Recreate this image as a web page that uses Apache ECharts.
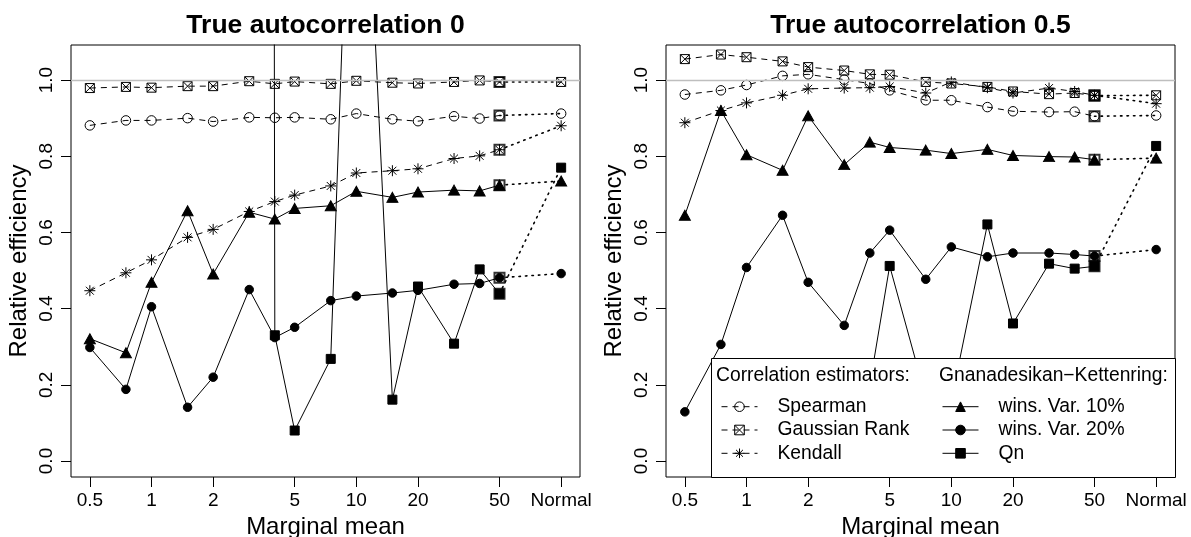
<!DOCTYPE html>
<html><head><meta charset="utf-8">
<script src="https://cdn.jsdelivr.net/npm/echarts@6/dist/echarts.min.js"></script>
<style>html,body{margin:0;padding:0;background:#fff}#c{width:1191px;height:537px}</style>
</head><body><div id="c"></div>
<script>
// ---------- data ----------
const means = [0.5, 0.75, 1, 1.5, 2, 3, 4, 5, 7.5, 10, 15, 20, 30, 40, 50];
const normalPos = 100;            // axis position used for the "Normal" column
const xTicks = [0.5, 1, 2, 5, 10, 20, 50];
const xTickLabels = ['0.5', '1', '2', '5', '10', '20', '50'];
const normalLabel = 'Normal';
const yTicks = [0, 0.2, 0.4, 0.6, 0.8, 1.0];
const yLimits = [0, 1.05];
const refLine = 1;
const titles = ['True autocorrelation 0', 'True autocorrelation 0.5'];
const seriesNames = ['Spearman', 'Gaussian Rank', 'Kendall', 'wins. Var. 10%', 'wins. Var. 20%', 'Qn'];

// true autocorrelation 0
const spearman0  = [0.881,0.894,0.894,0.900,0.891,0.902,0.901,0.902,0.897,0.912,0.897,0.892,0.905,0.899,0.907];
const gaussRank0 = [0.979,0.982,0.980,0.984,0.984,0.997,0.990,0.996,0.990,0.998,0.993,0.991,0.995,0.999,0.995];
const kendall0   = [0.447,0.494,0.528,0.587,0.608,0.655,0.681,0.698,0.722,0.756,0.762,0.767,0.794,0.801,0.817];
const gk10_0     = [0.321,0.284,0.469,0.657,0.491,0.653,0.635,0.663,0.670,0.708,0.692,0.706,0.711,0.709,0.724];
const gk20_0     = [0.298,0.188,0.405,0.141,0.220,0.450,0.324,0.351,0.421,0.433,0.441,0.448,0.464,0.466,0.481];
const qn0        = [null,null,null,null,null,40,0.330,0.080,0.268,2.15,0.161,0.458,0.308,0.503,0.439];
const normal0    = [0.912, 0.995, 0.880, 0.735, 0.492, 0.770];

// true autocorrelation 0.5
const spearman5  = [0.962,0.973,0.987,1.011,1.015,1.001,0.991,0.973,0.947,0.947,0.929,0.918,0.916,0.917,0.905];
const gaussRank5 = [1.055,1.067,1.060,1.049,1.034,1.025,1.015,1.014,0.995,0.991,0.982,0.970,0.963,0.966,0.959];
const kendall5   = [0.888,0.920,0.940,0.960,0.977,0.979,0.980,0.983,0.966,0.995,0.980,0.966,0.979,0.970,0.960];
const gk10_5     = [0.645,0.920,0.804,0.763,0.906,0.778,0.837,0.823,0.816,0.807,0.818,0.802,0.799,0.798,0.791];
const gk20_5     = [0.129,0.306,0.508,0.645,0.469,0.356,0.546,0.606,0.477,0.562,0.536,0.546,0.546,0.542,0.538];
const qn5        = [null,0.15,0.20,0.10,0.15,0.12,0.20,0.512,0.168,0.159,0.621,0.361,0.518,0.505,0.511];
const normal5    = [0.907, 0.960, 0.938, 0.795, 0.555, 0.827];

// ---------- styling ----------
const FONT = 'Liberation Sans, Arial, Helvetica, sans-serif';
const FS = 19;        // tick labels
const FS_NAME = 24;   // axis titles
const FS_TITLE = 26.5;
const FS_LEG = 19.3;  // legend
const BOXX = 'path://M0,0H10V10H0Z M0,0L10,10 M10,0L0,10';
const ASTER = 'path://M-1,0L1,0 M0,-1L0,1 M-0.72,-0.72L0.72,0.72 M-0.72,0.72L0.72,-0.72';
const DASH = [6, 5];
const DOT = [1.5, 5];
const sty = [
  {symbol: 'circle', size: 9.5, fill: 'transparent', dash: DASH},
  {symbol: BOXX, size: 9, fill: 'transparent', dash: DASH},
  {symbol: ASTER, size: 11, fill: 'transparent', dash: DASH},
  {symbol: 'triangle', size: [11, 10], fill: '#000', dash: 'solid'},
  {symbol: 'circle', size: 8.5, fill: '#000', dash: 'solid'},
  {symbol: 'rect', size: 9, fill: '#000', dash: 'solid'}
];

const grids = [
  {left: 71, top: 45, width: 509, height: 432},
  {left: 666, top: 45, width: 509, height: 432}
];

const LOG = Math.log10;
const xLo = LOG(means[0]), xHi = LOG(normalPos);
const xMin = xLo - 0.04 * (xHi - xLo), xMax = xHi + 0.04 * (xHi - xLo);
const yMin = yLimits[0] - 0.04 * (yLimits[1] - yLimits[0]);
const yMax = yLimits[1] + 0.04 * (yLimits[1] - yLimits[0]);
const xTickPos = xTicks.map(LOG).concat([LOG(normalPos)]);
const xTickText = xTickLabels.concat([normalLabel]);

const panels = [
  {vals: [spearman0, gaussRank0, kendall0, gk10_0, gk20_0, qn0], normal: normal0},
  {vals: [spearman5, gaussRank5, kendall5, gk10_5, gk20_5, qn5], normal: normal5}
];

const xAxes = [], yAxes = [], series = [], titleOpts = [];
panels.forEach((p, gi) => {
  xAxes.push({
    type: 'value', gridIndex: gi, min: xMin, max: xMax, position: 'bottom',
    name: 'Marginal mean', nameLocation: 'middle', nameGap: 32,
    nameTextStyle: {fontSize: FS_NAME, color: '#000', fontFamily: FONT},
    axisLine: {show: false, onZero: false}, splitLine: {show: false},
    axisTick: {show: true, inside: false, length: 10, customValues: xTickPos, lineStyle: {color: '#000', width: 1}},
    axisLabel: {
      customValues: xTickPos, margin: 14, fontSize: FS, color: '#000', fontFamily: FONT,
      formatter: v => { const i = xTickPos.findIndex(t => Math.abs(t - v) < 1e-6); return i >= 0 ? xTickText[i] : ''; }
    }
  });
  yAxes.push({
    type: 'value', gridIndex: gi, min: yMin, max: yMax, position: 'left',
    name: 'Relative efficiency', nameLocation: 'middle', nameGap: 40,
    nameTextStyle: {fontSize: FS_NAME, color: '#000', fontFamily: FONT},
    axisLine: {show: false, onZero: false}, splitLine: {show: false},
    axisTick: {show: true, inside: false, length: 10, customValues: yTicks, lineStyle: {color: '#000', width: 1}},
    axisLabel: {customValues: yTicks, rotate: 90, margin: 15, fontSize: FS, color: '#000', fontFamily: FONT,
      formatter: v => v.toFixed(1)}
  });
  titleOpts.push({
    text: titles[gi], left: grids[gi].left + grids[gi].width / 2, textAlign: 'center', top: 12, padding: 0,
    textStyle: {fontSize: FS_TITLE, fontWeight: 'bold', color: '#000', fontFamily: FONT}
  });
  // reference line at 1
  series.push({
    type: 'line', xAxisIndex: gi, yAxisIndex: gi, data: [], z: 1, silent: true,
    markLine: {silent: true, symbol: ['none', 'none'], label: {show: false}, animation: false,
      lineStyle: {color: '#bebebe', width: 1.3, type: 'solid'}, data: [{yAxis: refLine}]}
  });
  p.vals.forEach((v, k) => {
    const s = sty[k];
    const common = {
      xAxisIndex: gi, yAxisIndex: gi, symbol: s.symbol, symbolSize: s.size, silent: true,
      itemStyle: {color: s.fill, borderColor: '#000', borderWidth: 1},
      emphasis: {disabled: true}, clip: true
    };
    series.push(Object.assign({
      type: 'line', name: seriesNames[k], z: 3,
      data: means.map((m, i) => [LOG(m), v[i]]),
      lineStyle: {color: '#000', width: 1, type: s.dash}
    }, common));
    series.push(Object.assign({
      type: 'line', name: seriesNames[k] + ' (normal)', z: 3,
      data: [{value: [LOG(means[means.length - 1]), v[v.length - 1]], symbol: 'none'},
             {value: [LOG(normalPos), p.normal[k]]}],
      lineStyle: {color: '#000', width: 1.6, type: DOT, cap: 'round'}
    }, common));
  });
  series.push({
    type: 'scatter', xAxisIndex: gi, yAxisIndex: gi, z: 4, silent: true, symbol: 'rect', symbolSize: 10,
    itemStyle: {color: 'transparent', borderColor: '#000', borderWidth: 2},
    data: p.vals.map(v => [LOG(means[means.length - 1]), v[v.length - 1]])
  });
});

const lg = grids[1];
const legendBox = {x: 711, y: 358};
const legendCommon = {
  orient: 'vertical', itemWidth: 36, itemHeight: 12, itemGap: 3.3, padding: 0, z: 20,
  selectedMode: false,
  itemStyle: {borderWidth: 1},
  lineStyle: {width: 1},
  textStyle: {fontSize: FS_LEG, lineHeight: 20, color: '#000', fontFamily: FONT, padding: [0, 0, 0, 15]}
};

const option = {
  animation: false,
  backgroundColor: '#fff',
  title: titleOpts,
  grid: grids.map(g => Object.assign({show: true, borderColor: '#000', borderWidth: 1, backgroundColor: 'transparent', containLabel: false, outerBoundsMode: 'none'}, g)),
  xAxis: xAxes,
  yAxis: yAxes,
  legend: [
    Object.assign({}, legendCommon, {data: seriesNames.slice(0, 3), left: 721, top: 396.7}),
    Object.assign({}, legendCommon, {data: seriesNames.slice(3), left: 942, top: 396.7})
  ],
  graphic: [
    {type: 'rect', z: 10, shape: {x: legendBox.x + 0.5, y: legendBox.y + 0.5, width: lg.left + lg.width - legendBox.x, height: lg.top + lg.height - legendBox.y},
      style: {fill: '#fff', stroke: '#000', lineWidth: 1}},
    {type: 'text', z: 21, x: 716, y: 376, style: {text: 'Correlation estimators:', fontSize: FS_LEG, fontFamily: FONT, fill: '#000', verticalAlign: 'middle'}},
    {type: 'text', z: 21, x: 939, y: 376, style: {text: 'Gnanadesikan\u2212Kettenring:', fontSize: FS_LEG, fontFamily: FONT, fill: '#000', verticalAlign: 'middle'}}
  ],
  series: series
};
const chart = echarts.init(document.getElementById('c'), null, {renderer: 'canvas'});
chart.setOption(option);
</script>
</body></html>
